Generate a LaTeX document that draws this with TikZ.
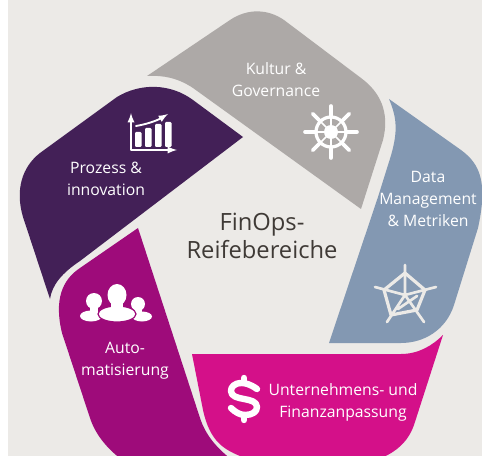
\documentclass[tikz,border=0pt]{standalone}
\usepackage{fontspec}
\setmainfont{Open Sans}
\definecolor{bgc}{HTML}{ECEAE7}
\definecolor{grayc}{HTML}{ADA9A7}
\definecolor{bluec}{HTML}{8398B2}
\definecolor{pinkc}{HTML}{D41089}
\definecolor{magc}{HTML}{9E0B7A}
\definecolor{purc}{HTML}{432057}
\definecolor{textc}{HTML}{3F3A36}
\tikzset{
  lbl/.style={text=white,align=center,inner sep=0pt,font=\fontsize{11.8}{16.4}\selectfont},
  icon/.style={draw=white,line cap=round,line join=round}
}
\begin{document}
\begin{tikzpicture}[x=0.75pt,y=-0.75pt]
  \useasboundingbox (0,0) rectangle (482,456);
  \fill[white] (0,0) rectangle (482,456);
  \begin{scope}
    \clip (8,0) rectangle (482,456);
    \fill[bgc] (8,0) rectangle (482,456);
    \fill[grayc] (147,76) -- (230,20) .. controls (248,8) and (268,9) .. (284,20)
      -- (361,78) .. controls (380,92) and (390,112) .. (383,140)
      -- (361,209) -- (193,88) .. controls (178,78) and (163,75) .. (147,76) -- cycle;
    \fill[purc] (243,137) -- (193,100) .. controls (170,83) and (140,83) .. (117,97)
      -- (40,153) .. controls (22,167) and (15,190) .. (23,217)
      -- (50,299) .. controls (52,285) and (62,273) .. (80,261) -- cycle;
    \fill[magc] (138,228) -- (80,268) .. controls (62,280) and (54,300) .. (62,333)
      -- (90,418) .. controls (96,436) and (108,449) .. (122,460)
      -- (232,460) .. controls (217,448) and (206,436) .. (200,418) -- cycle;
    \fill[pinkc] (192,354) -- (401,354) .. controls (418,354) and (432,346) .. (443,335)
      -- (414,425) .. controls (408,442) and (396,452) .. (381,458)
      -- (245,458) .. controls (224,450) and (210,442) .. (203,410) -- cycle;
    \fill[bluec] (389,99) -- (461,150) .. controls (480,164) and (488,182) .. (478,228)
      -- (454,305) .. controls (446,330) and (424,343) .. (401,343)
      -- (329,343) -- (378,197) -- (388,165) .. controls (398,135) and (398,120) .. (389,99) -- cycle;
  \end{scope}
  \draw[icon,line width=1.4pt,<->,>=latex] (131,113) -- (131,150) -- (177,150);
  \foreach \bx/\by in {135/132,145/128,155/124,165/122}
    \fill[white,rounded corners=0.8pt] (\bx,\by) rectangle (\bx+6.5,147);
  \draw[icon,line width=1.4pt,->,>=latex] (136,126) .. controls (148,124) and (158,120) .. (168,114);
  \draw[icon,line width=2.4pt] (331,132) circle (15);
  \fill[white] (331,132) circle (7);
  \foreach \a in {0,45,...,315} {
    \draw[icon,line width=1.2pt] (331,132) -- ++(\a:15);
    \draw[icon,line width=2.7pt] (331,132) ++(\a:15) -- ++(\a:11);
  }
  \draw[icon,draw=bgc,line width=2.4pt] (405,273) -- (425,290) -- (417,310) -- (391,315) -- (384,290) -- cycle;
  \draw[icon,draw=bgc,line width=2pt] (405,265) -- (405,295) (436,287) -- (405,295) -- (375,287)
    (424,322) -- (405,295) -- (387,322) (398,309) -- (417,296);
  \fill[white] (94,301) circle (8);
  \fill[white] (91,316) ellipse (11 and 5.5);
  \fill[white] (90,305) rectangle (98,314);
  \fill[white] (138,304) circle (7);
  \fill[white] (142,316.5) ellipse (10 and 5);
  \fill[white] (135,306) rectangle (142,315);
  \fill[white,draw=magc,line width=0.9pt] (117,314) ellipse (19 and 8);
  \fill[white] (117,295) ellipse (9.5 and 11);
  \fill[white] (111,300) rectangle (123,310);
  \draw[icon,line width=4.8pt] (257,389) .. controls (250,384) and (245,383) .. (242,383)
    .. controls (234,383) and (231,387) .. (231,391) .. controls (231,402) and (257,396) .. (257,407)
    .. controls (257,412) and (252,415) .. (245,415) .. controls (240,415) and (235,412) .. (231,408);
  \draw[icon,line width=4.8pt] (244,378) -- (244,383) (244,415) -- (244,420);
  \node[lbl] (kultur) at (276,80) {Kultur \&\\Governance};
  \node[lbl] (prozess) at (106,179) {Prozess \&\\innovation};
  \node[lbl] (data) at (428,199) {Data\\Management\\\& Metriken};
  \node[lbl] (auto) at (125,361) {Auto-\\matisierung};
  \node[lbl] (unter) at (343,402) {Unternehmens- und\\Finanzanpassung};
  \node[lbl,text=textc,font=\fontsize{17.8}{21}\selectfont] (finops) at (262,236) {FinOps-\\Reifebereiche};
\end{tikzpicture}
\end{document}
